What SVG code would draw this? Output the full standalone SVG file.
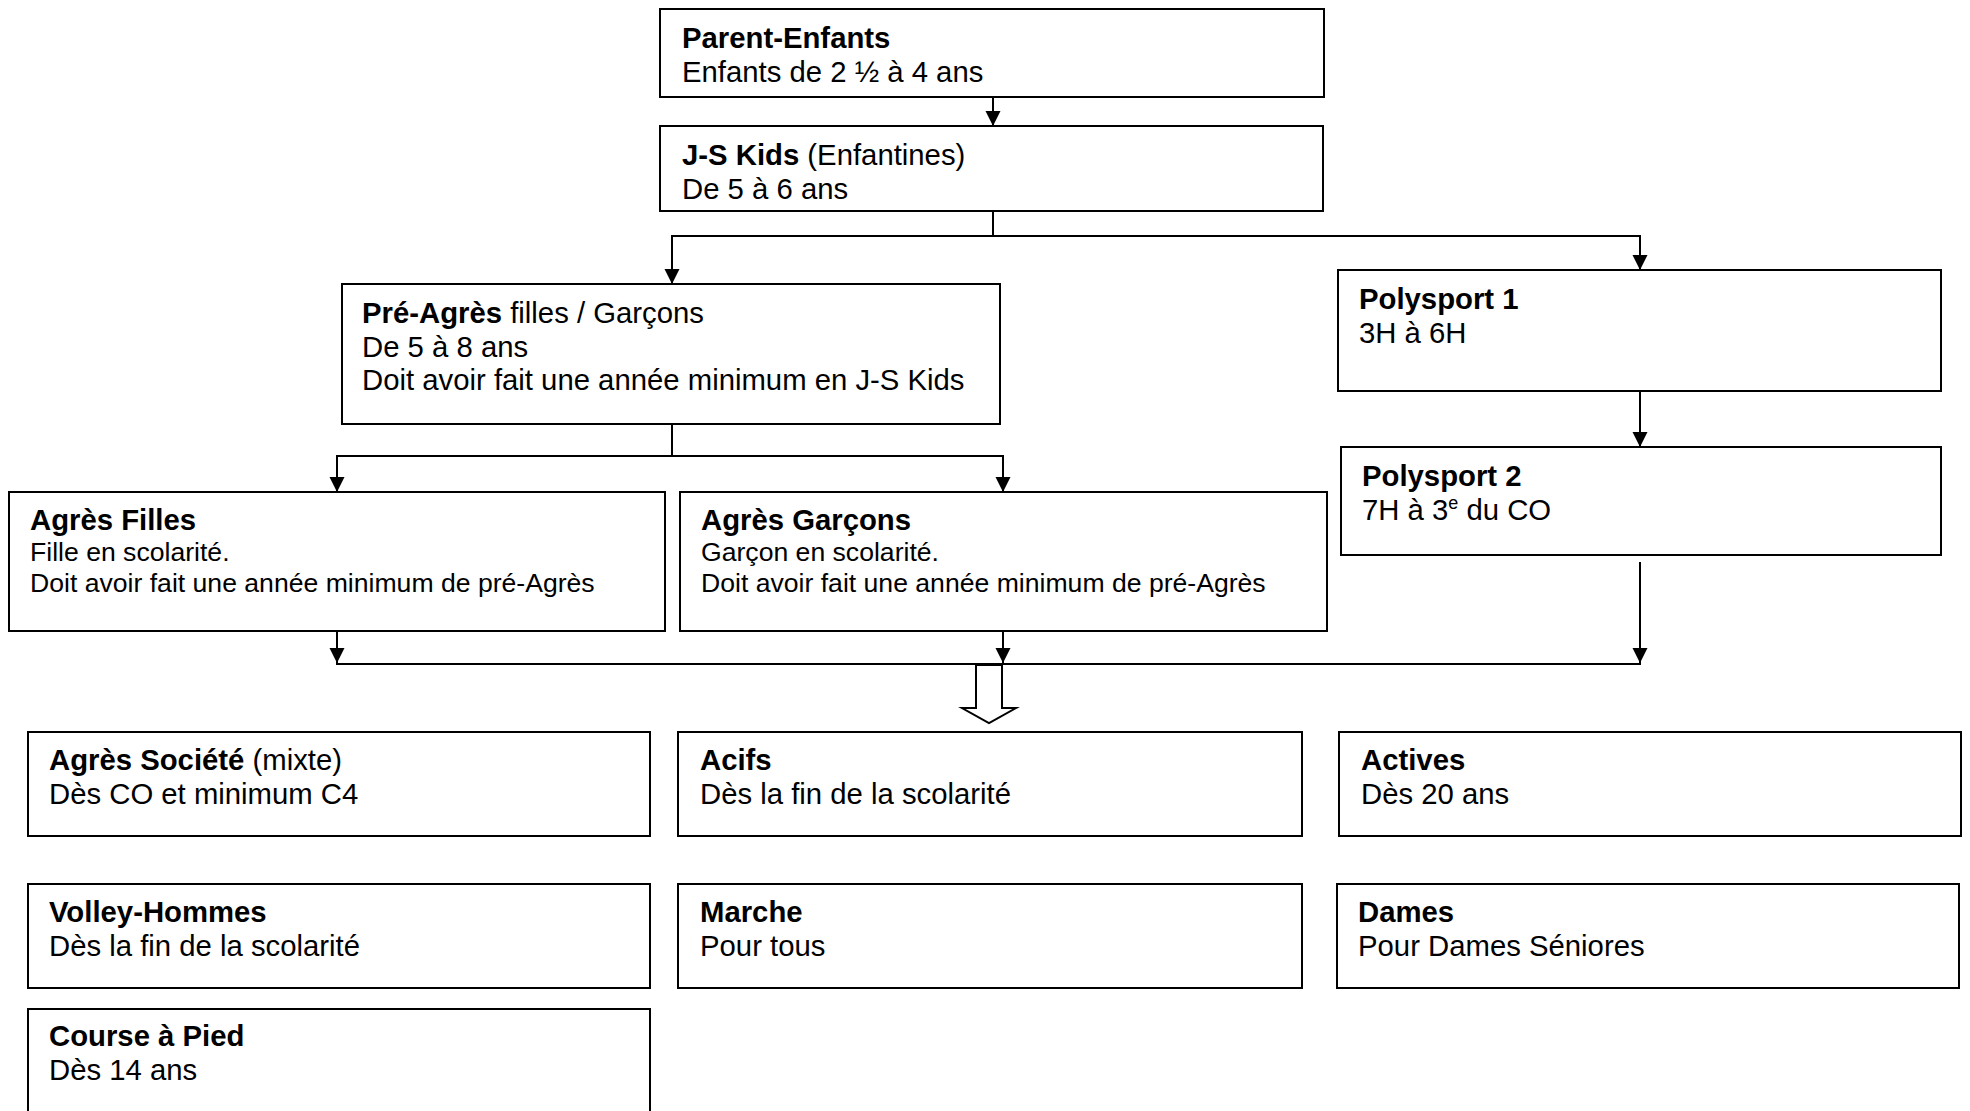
<svg xmlns="http://www.w3.org/2000/svg" width="1970" height="1111" viewBox="0 0 1970 1111">
<style>
.box{fill:#fff;stroke:#000;stroke-width:2}
.t{font-family:"Liberation Sans",Arial,sans-serif;font-size:29.3px;fill:#000}
.b{font-weight:bold}
.s{font-size:26.6px}
.c{fill:none;stroke:#000;stroke-width:2}
</style>
<defs>
<marker id="ah" markerUnits="userSpaceOnUse" markerWidth="16" markerHeight="16" refX="15" refY="7.5" orient="auto">
<path d="M0,0 L15,7.5 L0,15 z" fill="#000"/>
</marker>
</defs>
<rect width="1970" height="1111" fill="#fff"/>
<g id="connectors">
<line class="c" x1="993" y1="97" x2="993" y2="126" marker-end="url(#ah)"/>
<polyline class="c" points="993,211 993,236"/>
<line class="c" x1="671" y1="236" x2="1641" y2="236"/>
<line class="c" x1="672" y1="236" x2="672" y2="284" marker-end="url(#ah)"/>
<line class="c" x1="1640" y1="236" x2="1640" y2="270" marker-end="url(#ah)"/>
<line class="c" x1="1640" y1="391" x2="1640" y2="447" marker-end="url(#ah)"/>
<line class="c" x1="1640" y1="562" x2="1640" y2="663" marker-end="url(#ah)"/>
<line class="c" x1="672" y1="424" x2="672" y2="456"/>
<line class="c" x1="336" y1="456" x2="1004" y2="456"/>
<line class="c" x1="337" y1="456" x2="337" y2="492" marker-end="url(#ah)"/>
<line class="c" x1="1003" y1="456" x2="1003" y2="492" marker-end="url(#ah)"/>
<line class="c" x1="337" y1="631" x2="337" y2="663" marker-end="url(#ah)"/>
<line class="c" x1="1003" y1="631" x2="1003" y2="663" marker-end="url(#ah)"/>
<line class="c" x1="336" y1="664" x2="1641" y2="664"/>
<polygon points="976,665 976,708 962,708 989,723 1016,708 1002,708 1002,665" fill="#fff" stroke="#000" stroke-width="2"/>
</g>
<g id="parent-enfants">
<rect class="box" x="660" y="9" width="664" height="88"/>
<text class="t" x="682" y="48"><tspan class="b">Parent-Enfants</tspan></text>
<text class="t" x="682" y="82">Enfants de 2 ½ à 4 ans</text>
</g>
<g id="js-kids">
<rect class="box" x="660" y="126" width="663" height="85"/>
<text class="t" x="682" y="165"><tspan class="b">J-S Kids</tspan> (Enfantines)</text>
<text class="t" x="682" y="199">De 5 à 6 ans</text>
</g>
<g id="pre-agres">
<rect class="box" x="342" y="284" width="658" height="140"/>
<text class="t" x="362" y="323"><tspan class="b">Pré-Agrès</tspan> filles / Garçons</text>
<text class="t" x="362" y="357">De 5 à 8 ans</text>
<text class="t" x="362" y="390">Doit avoir fait une année minimum en J-S Kids</text>
</g>
<g id="polysport-1">
<rect class="box" x="1338" y="270" width="603" height="121"/>
<text class="t b" x="1359" y="309">Polysport 1</text>
<text class="t" x="1359" y="343">3H à 6H</text>
</g>
<g id="polysport-2">
<rect class="box" x="1341" y="447" width="600" height="108"/>
<text class="t b" x="1362" y="486">Polysport 2</text>
<text class="t" x="1362" y="520">7H à 3<tspan dy="-11" font-size="18">e</tspan><tspan dy="11"> du CO</tspan></text>
</g>
<g id="agres-filles">
<rect class="box" x="9" y="492" width="656" height="139"/>
<text class="t b" x="30" y="530">Agrès Filles</text>
<text class="t s" x="30" y="561">Fille en scolarité.</text>
<text class="t s" x="30" y="592">Doit avoir fait une année minimum de pré-Agrès</text>
</g>
<g id="agres-garcons">
<rect class="box" x="680" y="492" width="647" height="139"/>
<text class="t b" x="701" y="530">Agrès Garçons</text>
<text class="t s" x="701" y="561">Garçon en scolarité.</text>
<text class="t s" x="701" y="592">Doit avoir fait une année minimum de pré-Agrès</text>
</g>
<g id="agres-societe">
<rect class="box" x="28" y="732" width="622" height="104"/>
<text class="t" x="49" y="770"><tspan class="b">Agrès Société</tspan> (mixte)</text>
<text class="t" x="49" y="804">Dès CO et minimum C4</text>
</g>
<g id="acifs">
<rect class="box" x="678" y="732" width="624" height="104"/>
<text class="t b" x="700" y="770">Acifs</text>
<text class="t" x="700" y="804">Dès la fin de la scolarité</text>
</g>
<g id="actives">
<rect class="box" x="1339" y="732" width="622" height="104"/>
<text class="t b" x="1361" y="770">Actives</text>
<text class="t" x="1361" y="804">Dès 20 ans</text>
</g>
<g id="volley-hommes">
<rect class="box" x="28" y="884" width="622" height="104"/>
<text class="t b" x="49" y="922">Volley-Hommes</text>
<text class="t" x="49" y="956">Dès la fin de la scolarité</text>
</g>
<g id="marche">
<rect class="box" x="678" y="884" width="624" height="104"/>
<text class="t b" x="700" y="922">Marche</text>
<text class="t" x="700" y="956">Pour tous</text>
</g>
<g id="dames">
<rect class="box" x="1337" y="884" width="622" height="104"/>
<text class="t b" x="1358" y="922">Dames</text>
<text class="t" x="1358" y="956">Pour Dames Séniores</text>
</g>
<g id="course-a-pied">
<rect class="box" x="28" y="1009" width="622" height="110"/>
<text class="t b" x="49" y="1046">Course à Pied</text>
<text class="t" x="49" y="1080">Dès 14 ans</text>
</g>
</svg>
